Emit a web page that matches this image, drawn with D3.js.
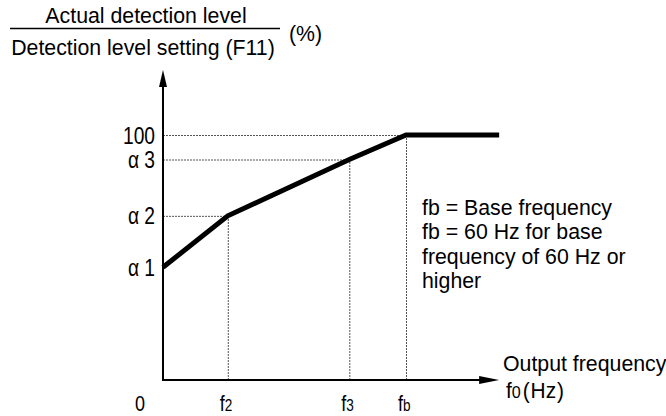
<!DOCTYPE html>
<html>
<head>
<meta charset="utf-8">
<script src="https://cdn.jsdelivr.net/npm/d3@7"></script>
<style>
  body { margin: 0; background: #fff; }
  svg { display: block; }
  .txt { font-family: "Liberation Sans", Arial, sans-serif; font-size: 21.3px; fill: #000; }
  .tick { font-family: "Liberation Sans", Arial, sans-serif; font-size: 24px; fill: #000; }
</style>
</head>
<body>
<div id="chart"></div>
<script>
// curve points: output frequency (Hz) vs detection level (%)
var curveFreq  = [0, 16, 46, 60, 83];
var curveLevel = [46, 67, 90, 100, 100];

// y tick labels and values
var yTickLabels = ["α 1", "α 2", "α 3", "100"];
var yTickValues = [46, 67, 90, 100];

// x tick labels (main, subscript) and values
var xTickMain = ["f", "f", "f"];
var xTickSub  = ["2", "3", "b"];
var xTickValues = [16, 46, 60];

var noteLines = ["fb = Base frequency", "fb = 60 Hz for base", "frequency of 60 Hz or", "higher"];

var W = 666, H = 416;
var svg = d3.select("#chart").append("svg").attr("width", W).attr("height", H);

var x = d3.scaleLinear().domain([0, 60]).range([163, 406]);
var y = d3.scaleLinear().domain([0, 100]).range([380, 135]);

var xMax = 83, yMax = 126.5;
var narrow = 0.8; // horizontal squeeze for the tick font

// dotted guide lines
var guide = svg.append("g")
  .attr("stroke", "#555").attr("stroke-width", 1)
  .attr("stroke-dasharray", "2,1").attr("fill", "none");

// horizontal guides from axis to the curve
var hGuides = [[1, 16], [2, 46], [3, 60]]; // [index in yTickValues, freq at end]
hGuides.forEach(function(g) {
  guide.append("line")
    .attr("x1", x(0)).attr("x2", x(g[1]))
    .attr("y1", y(yTickValues[g[0]]) + 0.5).attr("y2", y(yTickValues[g[0]]) + 0.5);
});
// vertical guides from axis up to curve
xTickValues.forEach(function(v, i) {
  var lvl = curveLevel[i + 1];
  guide.append("line")
    .attr("x1", x(v) + 0.5).attr("x2", x(v) + 0.5)
    .attr("y1", y(0)).attr("y2", y(lvl));
});

// axes
var axes = svg.append("g").attr("stroke", "#000").attr("stroke-width", 2);
axes.append("line").attr("x1", x(0)).attr("x2", x(0)).attr("y1", y(0) + 1).attr("y2", y(yMax) + 14);
axes.append("line").attr("x1", x(0) - 1).attr("x2", x(xMax) - 16).attr("y1", y(0)).attr("y2", y(0));

// arrow heads
svg.append("path")
  .attr("d", "M" + x(0) + "," + y(yMax) + " L" + (x(0) - 4) + "," + (y(yMax) + 17) +
             " L" + (x(0) + 4) + "," + (y(yMax) + 17) + "Z")
  .attr("fill", "#000");
svg.append("path")
  .attr("d", "M" + x(xMax) + "," + y(0) + " L" + (x(xMax) - 20) + "," + (y(0) - 4) +
             " L" + (x(xMax) - 20) + "," + (y(0) + 4) + "Z")
  .attr("fill", "#000");

// the curve
var line = d3.line()
  .x(function(d) { return x(d[0]); })
  .y(function(d) { return y(d[1]); });
svg.append("path")
  .datum(d3.zip(curveFreq, curveLevel))
  .attr("d", line)
  .attr("fill", "none")
  .attr("stroke", "#000")
  .attr("stroke-width", 5)
  .attr("stroke-linejoin", "miter");

function tickText(px, py, anchor, sx) {
  return svg.append("text").attr("class", "tick")
    .attr("transform", "translate(" + px + "," + py + ") scale(" + (sx || narrow) + ",1)")
    .attr("text-anchor", anchor || "start");
}

// y tick labels
yTickValues.forEach(function(v, i) {
  tickText(x(0) - 8, y(v) + 8.5, "end").text(yTickLabels[i]);
});

// x tick labels
tickText(140, y(0) + 31, "middle").style("font-size", "22.5px").text("0");
xTickValues.forEach(function(v, i) {
  var t = tickText(x(v) - 8, y(0) + 31).style("font-size", "22.5px");
  t.append("tspan").text(xTickMain[i]);
  t.append("tspan").style("font-size", "17px").text(xTickSub[i]);
});

// x axis title
svg.append("text").attr("class", "txt")
  .attr("x", 503).attr("y", 371).text("Output frequency");
var ft = tickText(506, 398, "start", 0.95).style("font-size", "22px");
ft.append("tspan").text("f");
ft.append("tspan").style("font-size", "17px").text("0");
ft.append("tspan").attr("dx", 2).text("(");
ft.append("tspan").attr("dx", 1).text("Hz");
ft.append("tspan").attr("dx", 1).text(")");

// y axis title (fraction)
svg.append("text").attr("class", "txt")
  .attr("x", 146).attr("y", 23).attr("text-anchor", "middle").text("Actual detection level");
svg.append("line")
  .attr("x1", 10).attr("x2", 280).attr("y1", 28.5).attr("y2", 28.5)
  .attr("stroke", "#000").attr("stroke-width", 1.5);
svg.append("text").attr("class", "txt")
  .attr("x", 143).attr("y", 55).attr("text-anchor", "middle").text("Detection level setting (F11)");
svg.append("text").attr("class", "txt")
  .attr("x", 289).attr("y", 41).text("(%)");

// note
svg.selectAll(".note")
  .data(noteLines)
  .enter().append("text")
    .attr("class", "txt")
    .attr("x", 422)
    .attr("y", function(d, i) { return 215 + i * 24.3; })
    .text(function(d) { return d; });
</script>
</body>
</html>
